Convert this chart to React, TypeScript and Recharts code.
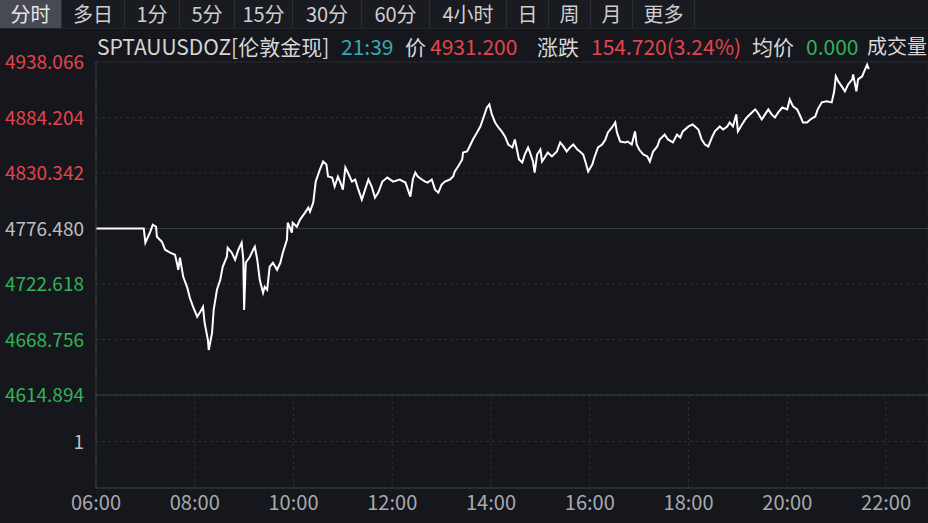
import { LineChart, Line, XAxis, YAxis, CartesianGrid, ReferenceLine } from "recharts";

const TABS = ["分时", "多日", "1分", "5分", "15分", "30分", "60分", "4小时", "日", "周", "月", "更多"];
const TAB_WIDTHS = [62, 63, 55, 55, 58, 69, 68, 77, 42, 42, 42, 62];

const PREV_CLOSE = 4776.48;
const PRICE_TICKS = [4938.066, 4884.204, 4830.342, 4776.48, 4722.618, 4668.756, 4614.894];
const TIME_TICKS = ["06:00", "08:00", "10:00", "12:00", "14:00", "16:00", "18:00", "20:00", "22:00"];
const VOLUME_TICKS = [1];

const TIMES = [
  "06:00", "06:58", "07:00", "07:06", "07:09", "07:13", "07:14", "07:20", "07:24", "07:30",
  "07:36", "07:38", "07:40", "07:42", "07:46", "07:51", "07:54", "07:58", "08:03", "08:06",
  "08:10", "08:12", "08:16", "08:17", "08:21", "08:23", "08:27", "08:31", "08:34", "08:39",
  "08:40", "08:45", "08:49", "08:53", "08:57", "08:59", "09:00", "09:02", "09:07", "09:11",
  "09:13", "09:16", "09:19", "09:23", "09:25", "09:28", "09:31", "09:35", "09:40", "09:44",
  "09:47", "09:52", "09:53", "09:58", "09:59", "10:04", "10:08", "10:14", "10:18", "10:20",
  "10:24", "10:27", "10:32", "10:36", "10:40", "10:42", "10:47", "10:50", "10:54", "10:57",
  "11:00", "11:03", "11:06", "11:11", "11:15", "11:18", "11:23", "11:27", "11:31", "11:35",
  "11:39", "11:43", "11:48", "11:54", "12:01", "12:09", "12:16", "12:19", "12:22", "12:25",
  "12:28", "12:31", "12:36", "12:40", "12:43", "12:48", "12:52", "12:56", "13:00", "13:04",
  "13:10", "13:14", "13:16", "13:20", "13:25", "13:26", "13:31", "13:34", "13:38", "13:43",
  "13:47", "13:50", "13:55", "13:58", "14:01", "14:05", "14:09", "14:13", "14:17", "14:21",
  "14:26", "14:29", "14:32", "14:34", "14:38", "14:41", "14:45", "14:47", "14:51", "14:53",
  "14:56", "15:00", "15:02", "15:06", "15:09", "15:14", "15:20", "15:24", "15:28", "15:32",
  "15:36", "15:40", "15:45", "15:48", "15:52", "15:55", "15:58", "16:03", "16:06", "16:10",
  "16:15", "16:19", "16:22", "16:27", "16:31", "16:33", "16:37", "16:43", "16:46", "16:51",
  "16:55", "16:57", "17:00", "17:05", "17:10", "17:13", "17:17", "17:22", "17:25", "17:31",
  "17:35", "17:41", "17:46", "17:50", "17:53", "18:00", "18:05", "18:12", "18:16", "18:20",
  "18:24", "18:29", "18:32", "18:38", "18:42", "18:47", "18:50", "18:54", "18:58", "19:00",
  "19:05", "19:09", "19:12", "19:17", "19:21", "19:24", "19:29", "19:33", "19:37", "19:41",
  "19:45", "19:49", "19:54", "20:00", "20:03", "20:07", "20:12", "20:16", "20:19", "20:24",
  "20:28", "20:34", "20:37", "20:42", "20:48", "20:54", "20:57", "20:59", "21:02", "21:07",
  "21:10", "21:14", "21:19", "21:20", "21:24", "21:26", "21:31", "21:33", "21:37", "21:39",
];

const PRICES = [
  4776.5, 4776.5, 4762.7, 4773.4, 4780.2, 4778.2, 4768.5, 4763.7, 4755.9, 4753.0,
  4751.0, 4744.2, 4736.4, 4748.1, 4729.6, 4718.9, 4709.2, 4700.4, 4690.7, 4694.6,
  4700.4, 4684.9, 4668.3, 4658.6, 4675.1, 4697.5, 4717.0, 4726.7, 4739.3, 4749.1,
  4757.8, 4753.0, 4746.1, 4755.9, 4762.7, 4746.1, 4697.5, 4743.2, 4749.1, 4755.9,
  4758.8, 4746.1, 4726.7, 4714.0, 4719.9, 4717.0, 4739.3, 4743.2, 4736.4, 4743.2,
  4753.0, 4765.6, 4782.1, 4772.4, 4782.1, 4778.2, 4785.1, 4791.9, 4796.7, 4792.8,
  4801.6, 4822.0, 4833.7, 4841.5, 4838.6, 4826.9, 4825.9, 4817.2, 4826.9, 4821.1,
  4814.2, 4835.6, 4830.8, 4822.0, 4824.0, 4816.2, 4804.5, 4814.2, 4824.0, 4817.2,
  4806.5, 4811.3, 4822.0, 4825.9, 4822.0, 4824.0, 4821.1, 4814.2, 4807.4, 4824.0,
  4830.8, 4826.9, 4824.0, 4822.0, 4821.1, 4824.0, 4814.2, 4811.3, 4819.1, 4822.0,
  4824.0, 4826.9, 4831.8, 4836.6, 4843.4, 4850.2, 4851.2, 4856.1, 4862.9, 4869.7,
  4875.5, 4882.3, 4893.9, 4896.9, 4887.2, 4879.4, 4874.5, 4870.7, 4865.8, 4858.0,
  4855.1, 4862.9, 4851.2, 4843.4, 4840.5, 4848.3, 4855.1, 4851.2, 4841.5, 4830.8,
  4848.3, 4853.1, 4841.5, 4846.4, 4850.2, 4846.4, 4851.2, 4860.0, 4856.1, 4851.2,
  4855.1, 4858.0, 4853.1, 4851.2, 4848.3, 4840.5, 4831.8, 4838.6, 4846.4, 4855.1,
  4858.0, 4862.9, 4869.7, 4874.5, 4879.4, 4869.7, 4860.9, 4860.0, 4860.9, 4858.0,
  4870.7, 4858.0, 4853.1, 4848.3, 4846.4, 4841.5, 4851.2, 4856.1, 4862.9, 4867.7,
  4862.9, 4860.0, 4867.7, 4864.8, 4870.7, 4875.5, 4877.4, 4872.6, 4862.9, 4858.0,
  4856.1, 4865.8, 4870.7, 4875.5, 4872.6, 4875.5, 4879.4, 4875.5, 4887.2, 4870.7,
  4877.4, 4882.3, 4885.2, 4889.1, 4892.1, 4889.1, 4882.3, 4887.2, 4892.1, 4887.2,
  4884.2, 4889.1, 4893.9, 4892.1, 4901.8, 4895.0, 4892.1, 4885.2, 4879.4, 4879.4,
  4882.3, 4885.2, 4892.1, 4898.9, 4899.9, 4898.9, 4909.6, 4924.2, 4919.2, 4913.4,
  4909.6, 4916.4, 4921.2, 4926.1, 4909.6, 4921.2, 4924.2, 4928.1, 4935.5, 4931.2,
];

const toMin = (t: string) => {
  const [h, m] = t.split(":").map(Number);
  return (h - 6) * 60 + m;
};
const fromMin = (v: number) => {
  const h = Math.floor(v / 60) + 6;
  const m = v % 60;
  return `${String(h).padStart(2, "0")}:${String(m).padStart(2, "0")}`;
};

// volume reads 0 across the session (成交量 panel is empty)
const data = TIMES.map((t, i) => ({ t: toMin(t), price: PRICES[i], vol: 0 }));
const xTicks = TIME_TICKS.map(toMin);
const X_DOMAIN: [number, number] = [0, 1011];

const BG = "#15171d";
const GRID = "#2c2f37";
const SOLID = "#3a3d45";
const FONT = "'Noto Sans CJK SC', 'Noto Sans', sans-serif";
const RED = "#e4434d";
const GREEN = "#2fb457";
const TEXT = "#d6d6d6";
const FS = 20;
const AXIS_FS = 19;

function PriceTick(props: any) {
  const { x, y, payload } = props;
  const v = payload.value;
  const fill = Math.abs(v - PREV_CLOSE) < 0.01 ? "#bfbfbf" : v > PREV_CLOSE ? RED : GREEN;
  return (
    <text x={x} y={y} dy={7} textAnchor="end" fill={fill} fontSize={AXIS_FS} fontFamily={FONT}>
      {v.toFixed(3)}
    </text>
  );
}

function VolTick(props: any) {
  const { x, y, payload } = props;
  return (
    <text x={x} y={y} dy={7} textAnchor="end" fill="#bfbfbf" fontSize={AXIS_FS} fontFamily={FONT}>
      {payload.value}
    </text>
  );
}

function TimeTick(props: any) {
  const { x, y, payload } = props;
  return (
    <text x={x} y={y} dy={14} textAnchor="middle" fill="#a8aaaf" fontSize={FS} fontFamily={FONT}>
      {fromMin(payload.value)}
    </text>
  );
}

const HEADER = [
  { x: 97, text: "SPTAUUSDOZ[伦敦金现]", color: TEXT, size: 21 },
  { x: 341, text: "21:39", color: "#38aab4", size: 21 },
  { x: 405, text: "价", color: TEXT, size: 21 },
  { x: 430, text: "4931.200", color: RED, size: 21 },
  { x: 537, text: "涨跌", color: TEXT, size: 21 },
  { x: 591, text: "154.720(3.24%)", color: RED, size: 21 },
  { x: 752, text: "均价", color: TEXT, size: 21 },
  { x: 806, text: "0.000", color: GREEN, size: 21 },
  { x: 867, text: "成交量", color: TEXT, size: 20 },
];

export default function App() {
  return (
    <div
      style={{
        position: "fixed",
        left: 0,
        top: 0,
        width: 928,
        height: 523,
        background: BG,
        overflow: "hidden",
        fontFamily: FONT,
      }}
    >
      {/* tab bar */}
      <div
        style={{
          position: "absolute",
          left: 0,
          top: 0,
          width: 928,
          height: 28,
          background: "#191b21",
          borderBottom: "1px solid #24262d",
          display: "flex",
        }}
      >
        {TABS.map((tab, i) => (
          <div
            key={tab}
            style={{
              width: TAB_WIDTHS[i],
              height: 28,
              lineHeight: "28px",
              textAlign: "center",
              fontSize: FS,
              color: i === 0 ? "#e6e6e6" : "#cfcfcf",
              background: i === 0 ? "#484a53" : "transparent",
              borderRight: "1px solid #2c2e35",
              boxSizing: "border-box",
              whiteSpace: "nowrap",
            }}
          >
            {tab}
          </div>
        ))}
      </div>

      {/* header line */}
      {HEADER.map((h) => (
        <div
          key={h.x}
          style={{
            position: "absolute",
            left: h.x,
            top: 33,
            height: 26,
            lineHeight: "26px",
            fontSize: h.size,
            color: h.color,
            whiteSpace: "nowrap",
          }}
        >
          {h.text}
        </div>
      ))}

      {/* volume panel */}
      <div style={{ position: "absolute", left: 0, top: 395 }}>
        <LineChart width={928} height={128} data={data} margin={{ top: 0, right: 0, bottom: 0, left: 0 }}>
          <CartesianGrid stroke={GRID} strokeDasharray="3 3" />
          <XAxis
            dataKey="t"
            type="number"
            domain={X_DOMAIN}
            ticks={xTicks}
            height={35}
            tick={<TimeTick />}
            tickLine={false}
            axisLine={{ stroke: SOLID }}
            interval={0}
          />
          <YAxis
            type="number"
            domain={[0, 2]}
            ticks={VOLUME_TICKS}
            width={96}
            tick={<VolTick />}
            tickLine={false}
            tickMargin={6}
            axisLine={{ stroke: SOLID }}
            interval={0}
          />
          <Line type="linear" dataKey="vol" stroke="none" dot={false} isAnimationActive={false} />
        </LineChart>
      </div>

      {/* price panel */}
      <div style={{ position: "absolute", left: 0, top: 0 }}>
        <LineChart width={928} height={420} data={data} margin={{ top: 62, right: 0, bottom: 25, left: 0 }}>
          <CartesianGrid stroke={GRID} strokeDasharray="3 3" />
          <XAxis
            dataKey="t"
            type="number"
            domain={X_DOMAIN}
            ticks={xTicks}
            height={0}
            tick={false}
            axisLine={false}
            tickLine={false}
          />
          <YAxis
            type="number"
            domain={[4614.894, 4938.066]}
            ticks={PRICE_TICKS}
            width={96}
            tick={<PriceTick />}
            tickLine={false}
            tickMargin={6}
            axisLine={{ stroke: SOLID }}
            interval={0}
          />
          <ReferenceLine y={4938.066} stroke="#24262d" />
          <ReferenceLine y={PREV_CLOSE} stroke={SOLID} />
          <ReferenceLine y={4614.894} stroke={SOLID} />
          <Line
            type="linear"
            dataKey="price"
            stroke="#ffffff"
            strokeWidth={2}
            dot={false}
            isAnimationActive={false}
          />
        </LineChart>
      </div>
    </div>
  );
}
